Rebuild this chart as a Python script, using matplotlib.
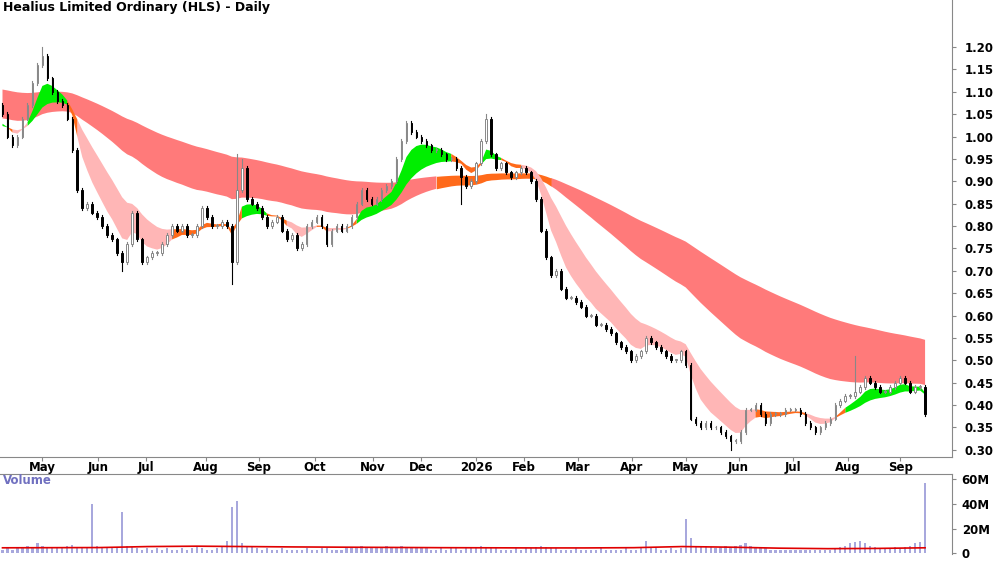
import matplotlib
matplotlib.use("Agg")
import matplotlib.pyplot as plt
import numpy as np
import pandas as pd

title = "Healius Limited Ordinary (HLS) - Daily"
# closes sampled every 2 trading days
closes = [1.05,1.00,0.98,1.00,1.04,1.07,1.12,1.16,1.18,1.13,1.10,1.08,1.07,1.04,0.97,0.88,0.84,0.85,0.83,0.82,
0.80,0.78,0.77,0.74,0.72,0.76,0.83,0.77,0.72,0.73,0.74,0.74,0.76,0.78,0.80,0.79,0.80,0.78,0.78,0.80,
0.84,0.82,0.80,0.80,0.81,0.80,0.72,0.88,0.93,0.86,0.85,0.84,0.82,0.80,0.81,0.82,0.79,0.77,0.78,0.75,
0.76,0.80,0.81,0.82,0.80,0.76,0.79,0.80,0.79,0.80,0.82,0.85,0.88,0.86,0.85,0.86,0.88,0.89,0.90,0.95,
0.99,1.03,1.01,1.00,0.99,0.98,0.97,0.97,0.96,0.95,0.95,0.93,0.91,0.89,0.90,0.94,0.99,1.04,0.96,0.93,
0.94,0.92,0.91,0.92,0.93,0.92,0.90,0.86,0.79,0.73,0.69,0.70,0.66,0.64,0.64,0.63,0.62,0.60,0.60,0.58,
0.58,0.57,0.56,0.54,0.53,0.52,0.50,0.51,0.52,0.55,0.54,0.53,0.52,0.51,0.50,0.50,0.52,0.49,0.37,0.36,
0.35,0.36,0.35,0.35,0.34,0.33,0.32,0.32,0.34,0.39,0.39,0.40,0.38,0.36,0.38,0.38,0.38,0.39,0.39,0.39,
0.38,0.36,0.35,0.34,0.35,0.36,0.37,0.40,0.41,0.42,0.42,0.43,0.44,0.46,0.45,0.44,0.43,0.43,0.44,0.45,
0.46,0.45,0.43,0.44,0.44,0.38]
open0 = 1.07
wick_highs = {8: 1.20, 47: 0.96, 48: 0.95, 97: 1.05, 171: 0.51}
wick_lows = {46: 0.67, 24: 0.70, 92: 0.85, 146: 0.30}
volumes = [3,4,3,5,4,6,5,8,6,5,4,4,5,6,7,5,4,4,40,6,
5,4,4,5,33,6,5,4,3,4,3,4,3,4,3,3,4,3,4,5,
4,3,3,4,5,10,37,42,8,6,5,4,3,4,3,3,4,3,3,3,
3,4,3,3,4,4,3,3,3,4,4,5,6,4,5,4,5,6,5,5,
6,5,4,4,5,4,3,3,4,3,4,4,3,4,4,5,6,5,4,4,
3,3,3,4,3,4,4,5,6,5,4,4,3,3,3,4,3,3,3,3,
4,3,3,3,3,4,3,3,4,10,5,4,3,3,4,3,4,28,12,6,
5,6,5,4,5,6,5,6,7,8,6,5,5,4,3,3,3,3,3,3,
3,3,3,3,3,3,3,4,5,6,8,9,10,8,6,5,4,4,4,5,
4,5,6,8,9,57]
vol_ma = [4.5,4.6,4.7,5.5,5.8,5.5,5.2,5.0,4.8,4.6,4.5,4.4,4.4,4.6,5.5,5.0,4.2,3.8,4.0,4.5]
month_labels = ["May","Jun","Jul","Aug","Sep","Oct","Nov","Dec","2026","Feb","Mar","Apr","May","Jun","Jul","Aug","Sep"]
month_idx = [8,19.2,28.8,40.8,51.4,62.6,74.2,84,95,104.6,115.4,126.2,137,147.6,158.6,169.6,180]
price_ticks = [0.30,0.35,0.40,0.45,0.50,0.55,0.60,0.65,0.70,0.75,0.80,0.85,0.90,0.95,1.00,1.05,1.10,1.15,1.20]
vol_ticks = [0,20,40,60]

c = pd.Series(closes)
short_spans = [6,8,10,12,14,16]
long_spans = [50,60,70,80,92,105]
warm = 150
S = np.array([(pd.concat([pd.Series([1.02]*warm), c]).ewm(span=s, adjust=False).mean().values[warm:]) for s in short_spans])
L = np.array([(pd.concat([pd.Series([0.98 + 0.0012*s]*warm), c]).ewm(span=s, adjust=False).mean().values[warm:]) for s in long_spans])
n = len(closes)
x = np.arange(n)

fig = plt.figure(figsize=(10, 5.62), dpi=100)
ax = fig.add_axes([0, 1-457/562, 0.952, 457/562])
axv = fig.add_axes([0, 8/562, 0.952, 80/562])

def band(a, arr, up_col, mix_col, dn_col, z):
    top = arr.max(0); bot = arr.min(0)
    d = np.diff(arr, axis=0)
    up = np.all(d <= 0, axis=0)
    dn = np.all(d >= 0, axis=0)
    for mask, col in [(up, up_col), (dn, dn_col), (~(up | dn), mix_col)]:
        m2 = mask | np.r_[False, mask[:-1]]
        a.fill_between(x, bot, top, where=m2, color=col, lw=0, zorder=z)

band(ax, L, "#7fe07f", "#ff6a1a", "#ff7a7a", 1)
band(ax, S, "#00ee00", "#ff6a1a", "#ffb6b6", 2)

opens = [open0] + closes[:-1]
w = 0.32
for i in range(n):
    o, cl = opens[i], closes[i]
    hi = max(o, cl) + 0.004; lo = min(o, cl) - 0.004
    hi = wick_highs.get(i, hi); lo = wick_lows.get(i, lo)
    upc = cl >= o
    ax.plot([i, i], [lo, hi], color="#888888" if upc else "black", lw=0.8, zorder=3)
    ax.add_patch(plt.Rectangle((i - w/2, min(o, cl)), w, max(abs(cl - o), 0.002),
                 facecolor="white" if upc else "black", edgecolor="#888888" if upc else "black", lw=0.7, zorder=4))

ax.set_xlim(-0.5, 190.4)
ax.set_ylim(0.284, 1.305)
ax.yaxis.tick_right()
ax.set_yticks(price_ticks)
ax.set_yticklabels([f"{v:.2f}" for v in price_ticks], fontsize=8.5, fontweight="bold")
ax.set_xticks(month_idx)
ax.set_xticklabels(month_labels, fontsize=8.5, fontweight="bold")
ax.tick_params(axis="x", length=3, pad=0, color="#888888")
ax.tick_params(axis="y", length=3, pad=6, color="#888888")
for s in ["top", "left"]:
    ax.spines[s].set_visible(False)
ax.spines["right"].set_color("#888888"); ax.spines["bottom"].set_color("#888888")
ax.text(0.003, 0.997, title, transform=ax.transAxes, fontsize=9, fontweight="bold", va="top", ha="left")

axv.bar(x, volumes, width=0.45, color="#a8a8dd", zorder=2)
axv.plot(np.linspace(0, n - 1, len(vol_ma)), vol_ma, color="#e00000", lw=1.2, zorder=3)
axv.set_xlim(-0.5, 190.4)
axv.set_ylim(-0.5, 64)
axv.yaxis.tick_right()
axv.set_yticks(vol_ticks)
axv.set_yticklabels([f"{v}M" if v else "0" for v in vol_ticks], fontsize=8.5, fontweight="bold")
axv.tick_params(axis="y", length=3, pad=4, color="#888888")
axv.set_xticks([])
for s in ["left", "bottom"]:
    axv.spines[s].set_visible(False)
axv.spines["right"].set_color("#888888"); axv.spines["top"].set_color("#888888")
axv.text(0.003, 1.0, "Volume", transform=axv.transAxes, fontsize=8.5, fontweight="bold", color="#7070c0", va="top")
fig.savefig("out.png", dpi=100)
